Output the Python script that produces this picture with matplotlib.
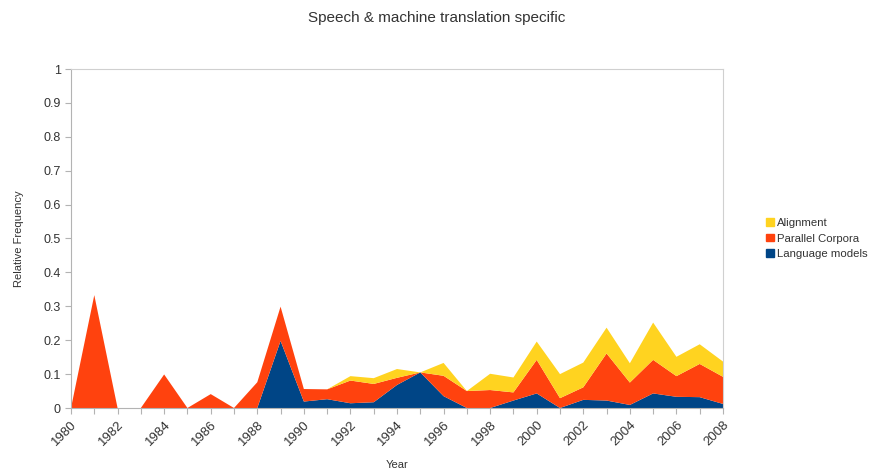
import numpy as np
import matplotlib.pyplot as plt
from matplotlib.patches import Patch

plt.rcParams['font.family'] = ['Liberation Sans', 'DejaVu Sans']

# Años y valores (frecuencia relativa) de cada serie
years = list(range(1980, 2009))
language_models = [0, 0, 0, 0, 0, 0, 0, 0, 0, 0.198, 0.019, 0.026, 0.014, 0.017, 0.068,
                   0.105, 0.035, 0, 0, 0.022, 0.043, 0, 0.024, 0.022, 0.009, 0.043,
                   0.033, 0.032, 0.012]
parallel_corpora = [0, 0.333, 0, 0, 0.099, 0, 0.041, 0, 0.076, 0.101, 0.037, 0.029, 0.067,
                    0.054, 0.021, 0, 0.060, 0.050, 0.053, 0.024, 0.099, 0.029, 0.037,
                    0.139, 0.066, 0.099, 0.061, 0.098, 0.080]
alignment = [0, 0, 0, 0, 0, 0, 0, 0, 0, 0, 0, 0, 0.013, 0.017, 0.026, 0, 0.038, 0, 0.048,
             0.044, 0.054, 0.071, 0.073, 0.076, 0.057, 0.110, 0.057, 0.058, 0.045]

colores = ['#004586', '#ff420e', '#ffd320']
etiquetas = ['Language models', 'Parallel Corpora', 'Alignment']

fig = plt.figure(figsize=(8.74, 4.73), dpi=100)
ax = fig.add_axes([71/874, 1-408/473, (723-71)/874, (408-69)/473])

ax.stackplot(years, language_models, parallel_corpora, alignment,
             colors=colores, linewidth=0)

ax.set_xlim(1980, 2008)
ax.set_ylim(0, 1)
ax.set_xticks(range(1980, 2009))
ax.set_xticklabels([str(y) if y % 2 == 0 else '' for y in years],
                   rotation=45, ha='right', rotation_mode='anchor')
ax.set_yticks(np.arange(0, 1.01, 0.1))
ax.set_yticklabels(['0', '0.1', '0.2', '0.3', '0.4', '0.5', '0.6', '0.7', '0.8', '0.9', '1'])

for s in ['left', 'bottom']:
    ax.spines[s].set_color('#b3b3b3')
for s in ['top', 'right']:
    ax.spines[s].set_color('#d0d0d0')
ax.tick_params(colors='#b3b3b3', labelcolor='#333333', labelsize=9, length=4)
ax.tick_params(axis='x', labelsize=9.5)

ax.set_xlabel('Year', fontsize=8, color='#333333', labelpad=9)
ax.set_ylabel('Relative Frequency', fontsize=8, color='#333333', labelpad=14)
fig.suptitle('Speech & machine translation specific', fontsize=11, color='#333333',
             x=437/874, y=1-18/473, va='center')

handles = [Patch(color=c) for c in colores[::-1]]
ax.legend(handles, etiquetas[::-1], loc='center left', bbox_to_anchor=(1.05, 0.5),
          frameon=False, fontsize=8.2, handlelength=0.7, handleheight=0.7,
          handletextpad=0.3, labelspacing=0.5, labelcolor='#333333')

plt.savefig('out.png', dpi=100)
